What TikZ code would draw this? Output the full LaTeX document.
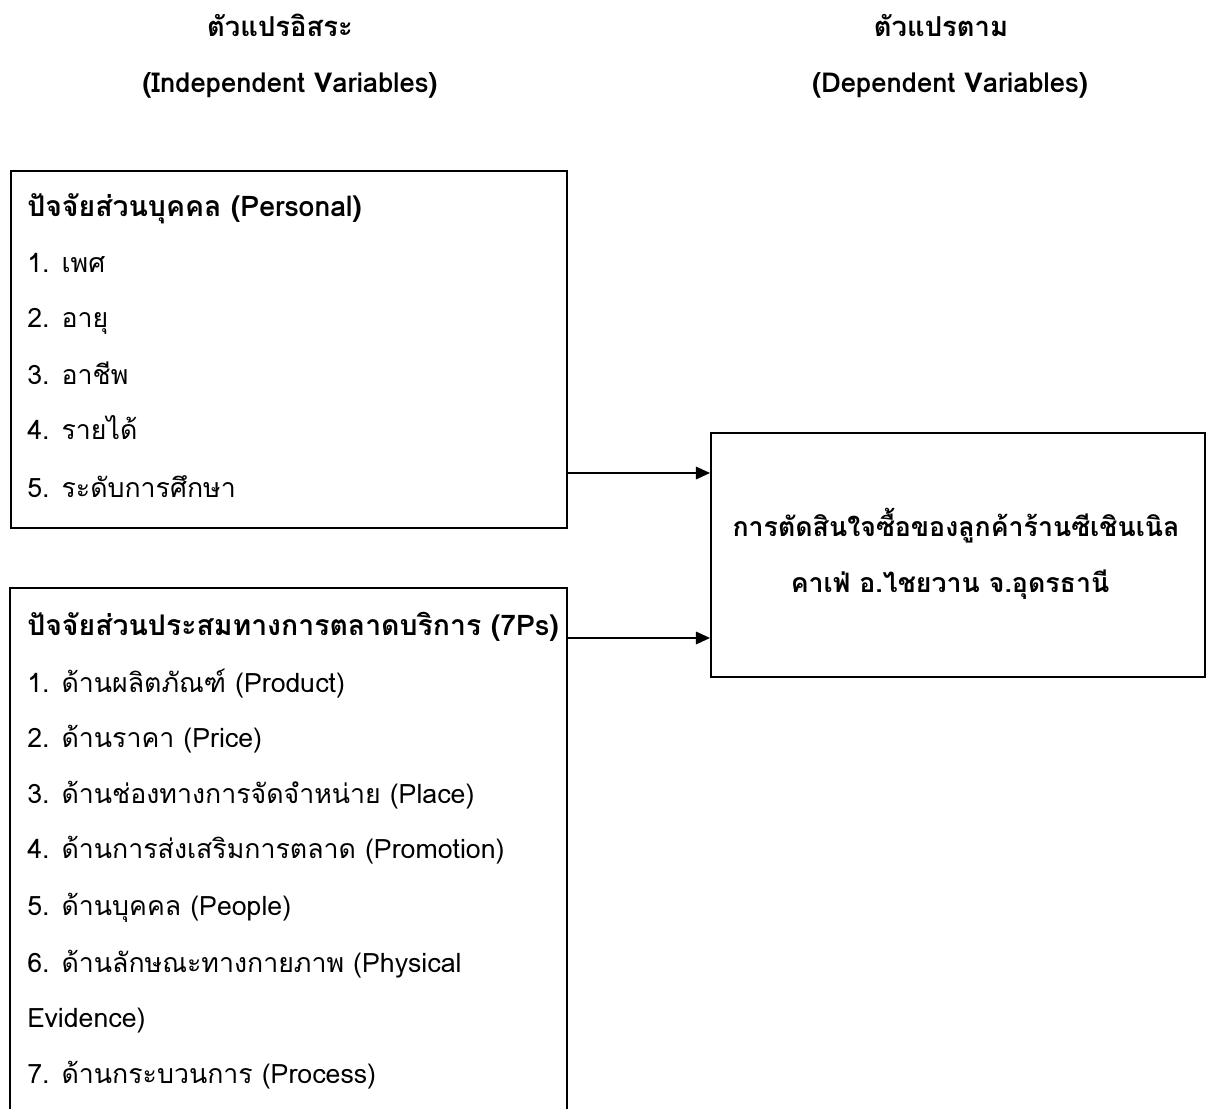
\documentclass[tikz,border=0pt]{standalone}
\usepackage{fontspec}
\setmainfont[Script=Thai]{Loma}
\usetikzlibrary{arrows.meta}
\begin{document}
\begin{tikzpicture}[x=0.025cm, y=-0.025cm, font=\fontsize{19}{23}\selectfont,
  frame/.style={line width=1.4pt},
  link/.style={line width=0.9pt, -{Triangle[length=10pt, width=9pt]}},
  txt/.style={anchor=base west, inner sep=0pt},
  title/.style={txt, font=\fontsize{20.2}{24}\selectfont\bfseries},
  head/.style={anchor=base, inner sep=0pt, font=\fontsize{19.5}{23}\selectfont\bfseries}]
  \useasboundingbox (0,0) rectangle (1206,1109);
  % กรอบ: พิกัดเป็นพิกเซลของภาพต้นฉบับ
  \node[frame, draw, anchor=north west, minimum width=13.9cm, minimum height=8.925cm] (pers) at (10,170) {};
  \node[frame, draw, anchor=north west, minimum width=12.35cm, minimum height=6.1cm] (dv) at (710,432) {};
  \coordinate (mixtl) at (10,588); \coordinate (mixtr) at (567,588);
  \draw[frame] (10,1112) -- (mixtl) -- (mixtr) -- (567,1112);
  \coordinate (s1) at (566,473); \coordinate (s2) at (567,638);
  \draw[link] (s1) -- (s1 -| dv.west);
  \draw[link] (s2) -- (s2 -| dv.west);
  % หัวข้อ
  \node[head] (iv1) at (280,37) {ตัวแปรอิสระ};
  \node[head] (iv2) at (290,93) {(Independent Variables)};
  \node[head] (dv1) at (941,37) {ตัวแปรตาม};
  \node[head] (dv2) at (950,93) {(Dependent Variables)};
  % ปัจจัยส่วนบุคคล
  \node[title] (p0) at (27,217) {ปัจจัยส่วนบุคคล (Personal)};
  \node[txt] (p1) at (27,273) {1. เพศ};
  \node[txt] (p2) at (27,328) {2. อายุ};
  \node[txt] (p3) at (27,385) {3. อาชีพ};
  \node[txt] (p4) at (27,440) {4. รายได้};
  \node[txt] (p5) at (27,497) {5. ระดับการศึกษา};
  % 7Ps
  \node[title] (m0) at (27,635) {ปัจจัยส่วนประสมทางการตลาดบริการ (7Ps)};
  \node[txt] (m1) at (27,692) {1. ด้านผลิตภัณฑ์ (Product)};
  \node[txt] (m2) at (27,747) {2. ด้านราคา (Price)};
  \node[txt] (m3) at (27,803) {3. ด้านช่องทางการจัดจำหน่าย (Place)};
  \node[txt] (m4) at (27,858) {4. ด้านการส่งเสริมการตลาด (Promotion)};
  \node[txt] (m5) at (27,915) {5. ด้านบุคคล (People)};
  \node[txt] (m6) at (27,972) {6. ด้านลักษณะทางกายภาพ (Physical};
  \node[txt] (m6b) at (27,1027) {Evidence)};
  \node[txt] (m7) at (27,1083) {7. ด้านกระบวนการ (Process)};
  % ตัวแปรตาม
  \node[head, font=\fontsize{19}{23}\selectfont\bfseries] (d1) at (956,537) {การตัดสินใจซื้อของลูกค้าร้านซีเชินเนิล};
  \node[head, font=\fontsize{19}{23}\selectfont\bfseries] (d2) at (950,592) {คาเฟ่ อ.ไชยวาน จ.อุดรธานี};
\end{tikzpicture}
\end{document}
